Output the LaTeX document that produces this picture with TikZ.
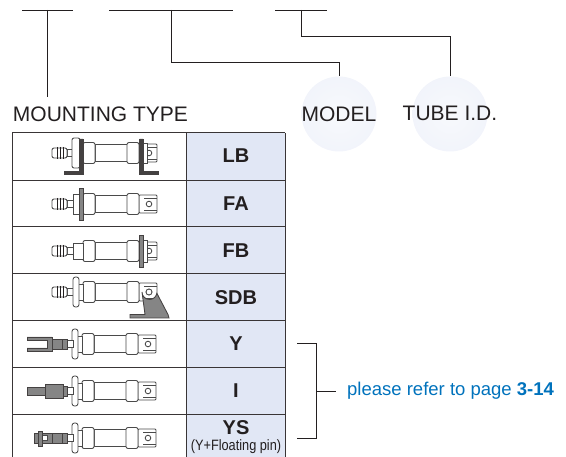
\documentclass[tikz,border=0pt]{standalone}
\usepackage{fontspec}
\setmainfont{Liberation Sans}
\usepackage{xcolor}
\usetikzlibrary{calc,positioning,shapes.geometric}
\definecolor{inkdark}{HTML}{231F20}
\definecolor{cellblue}{HTML}{E1E7F5}
\definecolor{linkblue}{HTML}{0072BC}
\definecolor{cylgray}{HTML}{4A4A4A}
\definecolor{partgray}{HTML}{858585}
\pgfdeclareradialshading{ballfade}{\pgfpoint{0bp}{0bp}}{%
  color(0bp)=(white!75!cellblue); color(25bp)=(white!55!cellblue); color(50bp)=(cellblue)}
\tikzset{
  wire/.style={draw=inkdark, line width=0.9pt},
  gridline/.style={draw=inkdark!90, line width=1pt},
  ball/.style={circle, draw=none, shading=ballfade, minimum size=75pt, inner sep=0pt},
  bigtext/.style={font=\fontsize{21}{24}\selectfont, text=inkdark, inner sep=0pt},
  codetext/.style={font=\fontsize{20}{22}\selectfont\bfseries, text=inkdark, inner sep=0pt},
  cylline/.style={draw=cylgray, line width=0.85pt, fill=white},
  cyldark/.style={draw=inkdark!85, line width=0.85pt, fill=partgray},
  % tube, two end caps and the block with its hole
  cylbody/.pic={
    \draw[cylline, rounded corners=1pt] (139,-9) rectangle (157,9);
    \draw[cylline] (144,-6) -- (157,-6) (144,6) -- (157,6);
    \draw[cylline] (149,0) circle (2.8);
    \draw[cylline] (95,-8.5) rectangle (127,8.5);
    \draw[cylline, rounded corners=2pt] (83,-10.5) rectangle (95,10.5);
    \draw[cylline, rounded corners=2pt] (127,-10.5) rectangle (139,10.5);
  },
  % threaded end of the rod
  cylstud/.pic={
    \draw[cylline] (67,-3.5) rectangle (74,3.5);
    \draw[cylline, rounded corners=2pt] (52,-5) rectangle (67,5);
    \draw[draw=inkdark, line width=1pt] (57,-6) -- (57,6) (60,-6) -- (60,6) (63,-6) -- (63,6);
  },
  % thin round flange
  cylflange/.pic={
    \draw[cylline] (73,-8) rectangle (83,8);
    \draw[cylline, rounded corners=2.5pt] (73,-15) rectangle (79,15);
  },
  % rod behind the clevis and tongue
  cylneck/.pic={
    \draw[cylline] (66,-3.5) rectangle (73,3.5);
    \draw[cyldark] (62,-5) rectangle (67,5);
  },
}
\begin{document}
\begin{tikzpicture}[x=1pt, y=-1pt]
    \useasboundingbox (0,0) rectangle (566,457);

    % Bars at the top
    \coordinate (barAl) at (22,10);
    \coordinate (barAr) at (73,10);
    \coordinate (barBl) at (109,10);
    \coordinate (barBr) at (233,10);
    \coordinate (barCl) at (275,10);
    \coordinate (barCr) at (327,10);
    \coordinate (barAm) at (47,10);
    \coordinate (barBm) at (171,10);
    \coordinate (barCm) at (301,10);
    \coordinate (typeend) at (47,97);

    % Balls and headings
    \node[ball] (modelball) at (339,114) {};
    \node[ball] (tubeball) at (450,114) {};
    \node[bigtext] (typetext) at (100.5,114) {MOUNTING TYPE};
    \node[bigtext] (modeltext) at (339,114) {MODEL};
    \node[bigtext] (tubetext) at (450,113) {TUBE I.D.};

    \draw[wire] (barAl) -- (barAr);
    \draw[wire] (barBl) -- (barBr);
    \draw[wire] (barCl) -- (barCr);
    \draw[wire] (barAm) -- (typeend);
    \draw[wire] (barBm) |- (339,62) -- (modelball.north);
    \draw[wire] (barCm) |- (450,36) -- (tubeball.north);

    % Table
    \fill[cellblue] (186,133) rectangle (285,457);
    \foreach \rowline in {133,181,227,274,321,368,415}
        \draw[gridline] (12,\rowline) -- (285,\rowline);
    \draw[gridline] (12,133) -- (12,457);
    \draw[gridline] (186,133) -- (186,457);
    \draw[gridline] (285,133) -- (285,457);

    % Codes
    \node[codetext] (lbtext) at (236,156) {LB};
    \node[codetext] (fatext) at (236,204) {FA};
    \node[codetext] (fbtext) at (236,251) {FB};
    \node[codetext] (sdbtext) at (236,298) {SDB};
    \node[codetext] (ytext) at (236,344) {Y};
    \node[codetext] (itext) at (236,391) {I};
    \node[codetext] (ystext) at (236,428) {YS};
    \node[font=\fontsize{15}{16}\selectfont, text=inkdark, inner sep=0pt, xscale=0.85] (floattext) at (236,447) {(Y+Floating pin)};

    % LB
    \pic at (0,153) {cylbody};
    \pic at (0,153) {cylstud};
    \draw[cylline, rounded corners=2pt] (72,138) rectangle (80,168);
    \draw[cyldark, fill=inkdark!85] (64,171.5) -- (79.5,171.5) -- (79.5,139) -- (83,139) -- (83,174) -- (64,174) -- cycle;
    \draw[cylline] (143,143) rectangle (147,163);
    \draw[cyldark, fill=inkdark!85] (158,171.5) -- (143,171.5) -- (143,139) -- (139.5,139) -- (139.5,174) -- (158,174) -- cycle;

    % FA
    \pic at (0,204) {cylbody};
    \pic at (0,204) {cylstud};
    \draw[cylline] (73,194) rectangle (79,214);
    \draw[cyldark] (79,188) rectangle (83,220);

    % FB
    \pic at (0,251) {cylbody};
    \pic at (0,251) {cylstud};
    \draw[cylline] (73,243) rectangle (83,259);
    \draw[cylline] (143,240) rectangle (147,262);
    \draw[cyldark] (139.5,235) rectangle (143,267);

    % SDB
    \pic at (0,292) {cylstud};
    \pic at (0,292) {cylbody};
    \pic at (0,292) {cylflange};
    \draw[cyldark] (130,318) -- (130,314.5) -- (145,314.5) -- (142,292)
        arc[start angle=180, end angle=10, radius=7.5] -- (168,314.5) -- (169,318) -- cycle;
    \draw[cylline] (149,292) circle (3);

    % Rows with rod ends
    \foreach \rowy in {344,391,438} {
        \pic at (-1,\rowy) {cylbody};
        \pic at (-1,\rowy) {cylflange};
        \pic at (0,\rowy) {cylneck};
    }

    % Y
    \draw[cyldark] (27,337) -- (52,337) -- (52,351) -- (27,351) -- (27,348) -- (47,348) -- (47,340) -- (27,340) -- cycle;
    \draw[cyldark] (52,339) rectangle (62,349);

    % I
    \draw[cyldark] (27,387) rectangle (46,395);
    \draw[cyldark] (45,384) rectangle (63,398);

    % YS
    \draw[cyldark] (34,433) rectangle (52,443);
    \draw[cylline] (41,435.5) rectangle (47,440.5);
    \draw[cyldark] (38,431) rectangle (42,446);
    \draw[cyldark] (52,433) rectangle (62,443);

    % Bracket to the page note
    \coordinate (braceT) at (297,343);
    \coordinate (braceB) at (297,438);
    \coordinate (braceM) at (316,391);
    \node[font=\fontsize{18.5}{20}\selectfont, text=linkblue, inner sep=0pt, anchor=west] (pagenote) at (347,391) {please refer to page \textbf{3-14}};
    \draw[wire] (braceT) -| (braceM);
    \draw[wire] (braceB) -| (braceM);
    \draw[wire] (braceM) -- (336,391);
\end{tikzpicture}
\end{document}
